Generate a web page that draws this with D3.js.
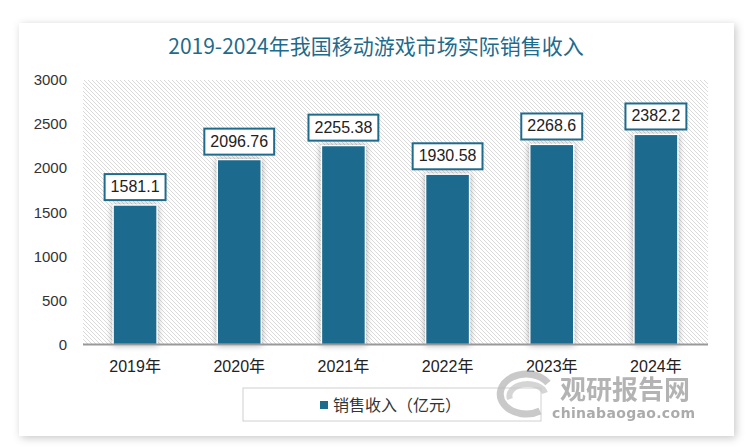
<!DOCTYPE html>
<html><head><meta charset="utf-8">
<script src="https://cdn.jsdelivr.net/npm/d3@7/dist/d3.min.js"></script>
<style>
html,body{margin:0;padding:0;background:#ffffff;}
svg{display:block;}
</style></head>
<body>
<svg id="chart" width="750" height="448"></svg>
<script>
const title = "2019-2024年我国移动游戏市场实际销售收入";
const categories = ["2019年","2020年","2021年","2022年","2023年","2024年"];
const values = [1581.1, 2096.76, 2255.38, 1930.58, 2268.6, 2382.2];
const valueLabels = ["1581.1","2096.76","2255.38","1930.58","2268.6","2382.2"];
const yTicks = [0,500,1000,1500,2000,2500,3000];
const seriesName = "销售收入（亿元）";
const watermark = "观研报告网";
const watermarkUrl = "chinabaogao.com";

const svg = d3.select("#chart");
const defs = svg.append("defs");

const cardShadow = defs.append("filter").attr("id","cardShadow").attr("x","-5%").attr("y","-5%").attr("width","110%").attr("height","110%");
cardShadow.append("feDropShadow").attr("dx",2).attr("dy",2).attr("stdDeviation",4).attr("flood-color","#000").attr("flood-opacity",0.22);

const barShadow = defs.append("filter").attr("id","barShadow").attr("x","-40%").attr("y","-10%").attr("width","180%").attr("height","120%");
barShadow.append("feDropShadow").attr("dx",0).attr("dy",0).attr("stdDeviation",3).attr("flood-color","#000").attr("flood-opacity",0.35);

const pat = defs.append("pattern").attr("id","hatch").attr("patternUnits","userSpaceOnUse").attr("width",4).attr("height",4);
pat.append("rect").attr("width",4).attr("height",4).attr("fill","#ffffff");
pat.append("path").attr("d","M-1,-1 L5,5 M-1,3 L1,5 M3,-1 L5,1").attr("stroke","#dadada").attr("stroke-width",1);

// card
svg.append("rect").attr("x",19).attr("y",23).attr("width",715).attr("height",413)
  .attr("fill","#ffffff").attr("filter","url(#cardShadow)");

// title
svg.append("text").attr("x",376).attr("y",54).attr("text-anchor","middle")
  .attr("font-family","'Noto Sans CJK SC', sans-serif").attr("font-size",21)
  .attr("fill","#1f6b8c").text(title);

const pLeft = 83, pRight = 708, pTop = 80, pBottom = 344.5;
const x = d3.scaleBand().domain(categories).range([pLeft,pRight]).paddingInner(0.58).paddingOuter(0.29);
const y = d3.scaleLinear().domain([0,3000]).range([pBottom,pTop]);

// plot background
svg.append("rect").attr("x",pLeft).attr("y",pTop).attr("width",pRight-pLeft).attr("height",pBottom-pTop).attr("fill","url(#hatch)");

// y axis labels
const yAxis = d3.axisLeft(y).tickValues(yTicks).tickSize(0).tickPadding(0).tickFormat(d3.format("d"));
const yg = svg.append("g").attr("transform",`translate(67,0)`).call(yAxis);
yg.select(".domain").remove();
yg.selectAll("text").attr("font-family","'Liberation Sans', Arial, sans-serif").attr("font-size",15).attr("fill","#333");

// bars
svg.append("g").selectAll("rect").data(values).join("rect")
  .attr("x",(d,i)=>x(categories[i])).attr("width",x.bandwidth())
  .attr("y",d=>y(d)).attr("height",d=>y(0)-y(d))
  .attr("fill","#1d6b8d").attr("stroke","#ffffff").attr("stroke-width",1.2)
  .attr("filter","url(#barShadow)");

// x axis
const xAxis = d3.axisBottom(x).tickSize(0).tickPadding(0);
const xg = svg.append("g").attr("transform",`translate(0,${pBottom})`).call(xAxis);
xg.select(".domain").attr("stroke","#999").attr("stroke-width",2).attr("d",`M${pLeft},0H${pRight}`);
xg.selectAll("text").attr("dy",0).attr("y",27).attr("font-family","'Liberation Sans','Noto Sans CJK SC', sans-serif").attr("font-size",16).attr("fill","#222");

// value labels
const lg = svg.append("g");
values.forEach((v,i)=>{
  const cx = x(categories[i]) + x.bandwidth()/2;
  const by = y(v) - 5;
  const g = lg.append("g");
  const t = g.append("text").attr("x",cx).attr("y",by-8).attr("text-anchor","middle")
    .attr("font-family","'Liberation Sans', Arial, sans-serif").attr("font-size",16).attr("fill","#222").text(valueLabels[i]);
  const w = t.node().getComputedTextLength() + 12;
  g.insert("rect","text").attr("x",cx-w/2).attr("y",by-26).attr("width",w).attr("height",26)
    .attr("fill","#fff").attr("stroke","#1d6b8d").attr("stroke-width",2);
});

// legend
svg.append("rect").attr("x",243).attr("y",388).attr("width",298).attr("height",33)
  .attr("fill","#fff").attr("stroke","#d0d0d0").attr("stroke-width",1);
svg.append("rect").attr("x",320).attr("y",401).attr("width",8).attr("height",8).attr("fill","#1d6b8d");
svg.append("text").attr("x",333).attr("y",411).attr("font-family","'Noto Sans CJK SC', sans-serif").attr("font-size",16).attr("fill","#333").text(seriesName);

// watermark
const wm = svg.append("g").attr("opacity",0.75);
wm.append("path").attr("d","M548,383 A26,20 0 1 0 540,411").attr("fill","none").attr("stroke","#b8b8b8").attr("stroke-width",7);
wm.append("path").attr("d","M510,399 A18,12 0 0 1 545,393").attr("fill","none").attr("stroke","#c8c8c8").attr("stroke-width",6);
wm.append("text").attr("x",560).attr("y",399).attr("font-family","'Noto Sans CJK SC', sans-serif").attr("font-weight","bold").attr("font-size",26).attr("fill","#9a9a9a").text(watermark);
wm.append("text").attr("x",552).attr("y",418).attr("font-family","'DejaVu Sans', sans-serif").attr("font-weight","bold").attr("font-size",14).attr("fill","#8f8f8f").attr("textLength",143).text(watermarkUrl);
</script>
</body></html>
